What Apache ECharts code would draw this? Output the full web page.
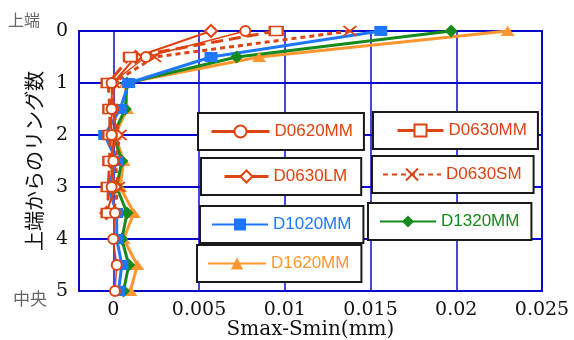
<!DOCTYPE html>
<html><head><meta charset="utf-8">
<script src="https://cdn.jsdelivr.net/npm/echarts@6/dist/echarts.min.js"></script>
<style>html,body{margin:0;padding:0;background:#fff}#c{width:574px;height:340px}</style>
</head><body><div id="c"></div>
<script>
// ring positions (y) for each series
const ringFull = [0, 0.5, 1, 1.5, 2, 2.5, 3, 3.5, 4, 4.5, 5];
const ringShort = [0, 0.5, 1, 1.5, 2, 2.5, 3, 3.5];
// Smax-Smin values (mm)
const D0620MM = [0.0077, 0.0019, -0.0001, -0.0001, -0.0001, 0.0000, -0.0001, 0.0001, 0.0000, 0.0002, 0.0001];
const D0630MM = [0.0095, 0.0010, -0.0003, -0.0002, -0.0002, -0.0002, -0.0003, -0.0003];
const D0630LM = [0.0057, 0.0013, 0.0000, 0.0000, 0.0002, -0.0002, 0.0001, -0.0004];
const D0630SM = [0.0138, 0.0024, 0.0000, -0.0001, 0.0004, 0.0001, 0.0003, 0.0000];
const D1020MM = [0.0156, 0.0057, 0.0009, 0.0004, -0.0005, 0.0002, -0.0003, 0.0002, 0.0002, 0.0005, 0.0003];
const D1320MM = [0.0197, 0.0072, 0.0008, 0.0007, 0.0000, 0.0005, 0.0002, 0.0008, 0.0005, 0.0009, 0.0006];
const D1620MM = [0.0230, 0.0085, 0.0007, 0.0008, 0.0001, 0.0006, 0.0004, 0.0012, 0.0006, 0.0014, 0.0010];
const xTicks = [0, 0.005, 0.01, 0.015, 0.02, 0.025];
const yTicks = [0, 1, 2, 3, 4, 5];

const RED = '#DD4411', BLUE = '#1E78FF', GREEN = '#178A1E', ORANGE = '#FF962E';
const GRIDC = '#0A0ACC';
const pairs = (xs, ys) => xs.map((v, i) => [v, ys[i]]);
const XPATH = 'path://M0,0L10,10M10,0L0,10';

function mkSeries(name, xs, ys, color, lw, ltype, symbol, size, itemStyle) {
  return {
    name, type: 'line', data: pairs(xs, ys), symbol, symbolSize: size,
    showAllSymbol: true,
    lineStyle: { color, width: lw, type: ltype },
    itemStyle: itemStyle || { color, opacity: 1 },
    emphasis: { disabled: true }, animation: false
  };
}
const series = [
  mkSeries('D1620MM', D1620MM, ringFull, ORANGE, 3, 'solid', 'triangle', [14, 10]),
  mkSeries('D1320MM', D1320MM, ringFull, GREEN, 3, 'solid', 'diamond', 13),
  mkSeries('D1020MM', D1020MM, ringFull, BLUE, 3, 'solid', 'rect', [13, 10]),
  mkSeries('D0630SM', D0630SM, ringShort, RED, 3, [5, 4], XPATH, [13, 10], { color: RED, borderColor: RED, borderWidth: 2 }),
  mkSeries('D0630LM', D0630LM, ringShort, RED, 2, 'solid', 'emptyDiamond', 12, { color: RED, borderWidth: 1.5 }),
  mkSeries('D0630MM', D0630MM, ringShort, RED, 3, [12, 6], 'emptyRect', [13, 9], { color: RED, borderWidth: 1.5 }),
  mkSeries('D0620MM', D0620MM, ringFull, RED, 1.5, 'solid', 'emptyCircle', 10, { color: RED, borderWidth: 1.2 })
];

function mkLegend(name, color, left, top, iw, pad, lineStyle) {
  return {
    data: [{ name, lineStyle: lineStyle || {} }], left, top, itemWidth: iw, itemHeight: 15, padding: pad,
    borderColor: '#1a1a1a', borderWidth: 2, backgroundColor: '#fff',
    selectedMode: false, orient: 'horizontal',
    textStyle: { color, fontSize: 17, fontFamily: 'Liberation Sans, Arial, sans-serif' }
  };
}
const legends = [
  mkLegend('D0620MM', RED, 198, 113, 58, [10, 11, 10, 12], { width: 3 }),
  mkLegend('D0630LM', RED, 201, 158, 44, [10, 14, 10, 22], { width: 3 }),
  mkLegend('D0630MM', RED, 373, 112, 46, [10, 11, 10, 23], { width: 3, type: 'solid' }),
  mkLegend('D0630SM', RED, 372, 156, 58, [10, 12, 10, 10]),
  mkLegend('D1320MM', GREEN, 368, 203, 56, [10, 12, 10, 11]),
  mkLegend('D1020MM', BLUE, 200, 206, 56, [10, 12, 10, 11]),
  mkLegend('D1620MM', ORANGE, 197, 245, 58, [10, 12, 10, 10])
];

const SERIF = 'DejaVu Serif, Liberation Serif, serif';
const chart = echarts.init(document.getElementById('c'), null, { renderer: 'canvas' });
chart.setOption({
  animation: false,
  backgroundColor: '#fff',
  grid: { left: 79, top: 31, right: 32, bottom: 49, show: true, borderColor: GRIDC, borderWidth: 2,
          backgroundColor: 'transparent', containLabel: false, outerBoundsMode: 'none' },
  legend: legends,
  xAxis: {
    type: 'value', min: -0.002, max: 0.025,
    name: 'Smax-Smin(mm)', nameLocation: 'middle', nameGap: 29, nameMoveOverlap: false,
    nameTextStyle: { fontFamily: SERIF, fontSize: 20, color: '#111' },
    axisLine: { onZero: false, lineStyle: { color: GRIDC, width: 2 } },
    axisTick: { show: false, customValues: xTicks },
    axisLabel: { customValues: xTicks, fontFamily: SERIF, fontSize: 19, color: '#111', margin: 10, formatter: v => String(v) },
    splitLine: { show: true, lineStyle: { color: GRIDC, width: 1.5 } }
  },
  yAxis: {
    type: 'value', min: 0, max: 5, interval: 1, inverse: true, position: 'left', offset: 23,
    name: '上端からのリング数', nameLocation: 'middle', nameGap: 12, nameRotate: 90, nameMoveOverlap: false,
    nameTextStyle: { fontFamily: 'Noto Sans CJK JP, sans-serif', fontSize: 20, color: '#111' },
    axisLine: { show: false, onZero: false, lineStyle: { color: GRIDC, width: 2 } },
    axisTick: { show: false },
    axisLabel: { fontFamily: SERIF, fontSize: 19, color: '#111', margin: -12, inside: false, align: 'right', verticalAlign: 'middle' },
    splitLine: { show: true, lineStyle: { color: GRIDC, width: 2 } }
  },
  graphic: [
    { type: 'text', left: 8, top: 12, style: { text: '上端', fill: '#666', font: '16px "Noto Sans CJK JP"' } },
    { type: 'text', left: 13, top: 290, style: { text: '中央', fill: '#666', font: '17px "Noto Sans CJK JP"' } }
  ],
  series
});
</script></body></html>
